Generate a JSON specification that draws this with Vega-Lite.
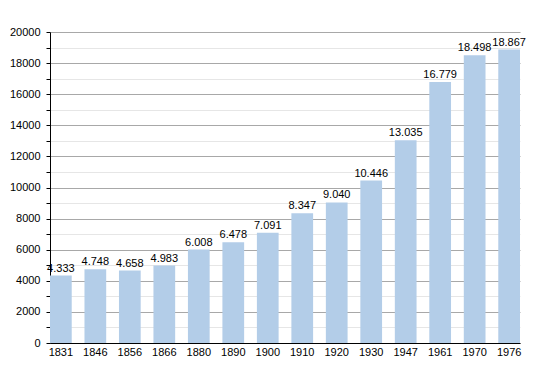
{
  "$schema": "https://vega.github.io/schema/vega-lite/v6.json",
  "width": 470,
  "height": 311,
  "autosize": {"type": "none"},
  "padding": {"left": 50, "top": 32, "right": 30, "bottom": 30},
  "background": "white",
  "config": {
    "locale": {"number": {"decimal": ",", "thousands": ".", "grouping": [3], "currency": ["", ""]}},
    "view": {"stroke": null},
    "font": "Liberation Sans"
  },
  "data": {"values": [
    {"year": "1831", "pop": 4333},
    {"year": "1846", "pop": 4748},
    {"year": "1856", "pop": 4658},
    {"year": "1866", "pop": 4983},
    {"year": "1880", "pop": 6008},
    {"year": "1890", "pop": 6478},
    {"year": "1900", "pop": 7091},
    {"year": "1910", "pop": 8347},
    {"year": "1920", "pop": 9040},
    {"year": "1930", "pop": 10446},
    {"year": "1947", "pop": 13035},
    {"year": "1961", "pop": 16779},
    {"year": "1970", "pop": 18498},
    {"year": "1976", "pop": 18867}
  ]},
  "encoding": {
    "x": {
      "field": "year", "type": "nominal", "sort": null,
      "scale": {"paddingInner": 0.37, "paddingOuter": 0},
      "axis": {"title": null, "labelAngle": 0, "ticks": false, "domainColor": "black", "labelColor": "black", "labelFontSize": 11, "labelPadding": 3, "grid": false}
    },
    "y": {
      "field": "pop", "type": "quantitative",
      "scale": {"domain": [0, 20000], "nice": false},
      "axis": {
        "title": null,
        "values": [0,1000,2000,3000,4000,5000,6000,7000,8000,9000,10000,11000,12000,13000,14000,15000,16000,17000,18000,19000,20000],
        "labelExpr": "datum.value % 2000 === 0 ? format(datum.value, 'd') : ''",
        "grid": true,
        "gridColor": {"condition": {"test": "datum.value % 2000 === 0", "value": "#a8a8a8"}, "value": "#e6e6e6"},
        "domainColor": "black",
        "tickColor": "black",
        "tickSize": 4,
        "labelColor": "black",
        "labelFontSize": 11,
        "labelPadding": 6
      }
    }
  },
  "layer": [
    {"mark": {"type": "bar", "color": "#b3cde8"}},
    {
      "mark": {"type": "text", "baseline": "bottom", "dy": -2, "fontSize": 11, "color": "black"},
      "encoding": {"text": {"field": "pop", "type": "quantitative", "format": ",d"}}
    }
  ]
}
